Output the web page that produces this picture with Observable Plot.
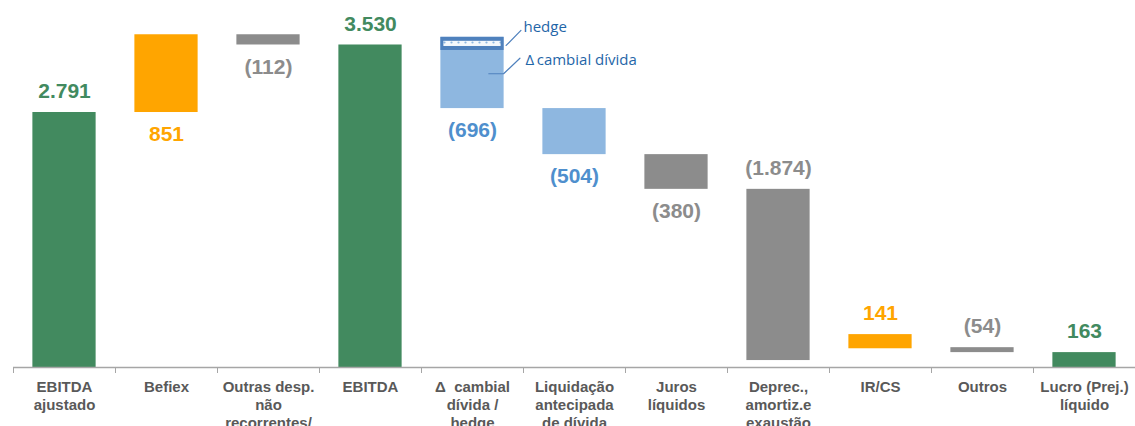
<!DOCTYPE html>
<html><head><meta charset="utf-8">
<script src="https://cdn.jsdelivr.net/npm/d3@7"></script>
<script src="https://cdn.jsdelivr.net/npm/@observablehq/plot@0.6"></script>
<style>body{margin:0;background:#fff;} #chart svg{display:block;}</style>
</head><body><div id="chart"></div>
<script>
// ---- data ----
const categories = ["EBITDA\najustado", "Befiex", "Outras desp.\nnão\nrecorrentes/", "EBITDA",
  "Δ\u00a0 cambial\ndívida /\nhedge", "Liquidação\nantecipada\nde dívida", "Juros\nlíquidos",
  "Deprec.,\namortiz.e\nexaustão", "IR/CS", "Outros", "Lucro (Prej.)\nlíquido"];
const values      = [2791, 851, -112, 3530, -696, -504, -380, -1874, 141, -54, 163];
const valueLabels = ["2.791", "851", "(112)", "3.530", "(696)", "(504)", "(380)", "(1.874)", "141", "(54)", "163"];
const barLow  = [0, 2791, 3530, 0, 2834, 2330, 1950, 76, 205, 163, 0];
const barHigh = [2791, 3642, 3642, 3530, 3614, 2834, 2330, 1950, 360, 217, 163];
const kinds   = ["total", "up", "down", "total", "fx", "fx", "down", "down", "up", "down", "total"];
const labelSide = ["above", "below", "below", "above", "below", "below", "below", "above", "above", "above", "above"];
// hedge segment on top of the Δ cambial bar
const hedgeCategory = 4, hedgeLow = 3470, hedgeHigh = 3614;
// annotation leader lines (x in category units, y in value units)
const hedgeLeaderX = [4.83, 4.975], hedgeLeaderY = [3525, 3690];
const fxLeaderX = [4.66, 4.805, 4.965], fxLeaderY = [3215, 3215, 3385];
const annotations = [
  {text: "hedge", x: 5.0, y: 3725},
  {text: "Δ\u2009cambial dívida", x: 5.02, y: 3360}
];

const barColor = {total: "#428a5f", up: "#ffa500", down: "#8c8c8c", fx: "#8eb7e0"};
const textColor = {total: "#428a5f", up: "#ffa500", down: "#8c8c8c", fx: "#4f8fcd"};

const data = categories.map((c, i) => ({
  i, cat: c, value: values[i], low: barLow[i], high: barHigh[i],
  kind: kinds[i], label: valueLabels[i], side: labelSide[i]
}));
const hedge = [{i: hedgeCategory, low: hedgeLow, high: hedgeHigh}];
const hedgeLine = hedgeLeaderX.map((x, k) => ({x, y: hedgeLeaderY[k]}));
const fxLine = fxLeaderX.map((x, k) => ({x, y: fxLeaderY[k]}));

const font = "'Liberation Sans', Arial, sans-serif";
const pad = 0.19;

const plot = Plot.plot({
  width: 1135, height: 426,
  marginLeft: 13, marginRight: 0, marginTop: 0, marginBottom: 59,
  x: {type: "linear", domain: [0, categories.length], axis: null},
  y: {domain: [0, 4017], axis: null},
  style: {fontFamily: font, background: "#fff", overflow: "visible"},
  marks: [
    Plot.rectY(data, {x1: d => d.i + pad, x2: d => d.i + 1 - pad, y1: "low", y2: "high",
      fill: d => barColor[d.kind]}),
    Plot.rectY(hedge, {x1: d => d.i + pad, x2: d => d.i + 1 - pad, y1: "low", y2: "high", fill: "#4f81bd"}),
    Plot.rectY(hedge, {x1: d => d.i + pad, x2: d => d.i + 1 - pad, y1: "low", y2: "high",
      fill: "url(#hedgeDots)", insetTop: 4, insetBottom: 4, insetLeft: 3, insetRight: 3}),
    Plot.line(hedgeLine, {x: "x", y: "y", stroke: "#4f81bd", strokeWidth: 1.2}),
    Plot.line(fxLine, {x: "x", y: "y", stroke: "#4f81bd", strokeWidth: 1.2}),
    Plot.text(annotations, {x: "x", y: "y", text: "text", textAnchor: "start",
      fontSize: 15, fill: "#1f66a8", fontFamily: "'Open Sans', 'Noto Sans', sans-serif"}),
    Plot.ruleY([0], {stroke: "#a6a6a6", strokeWidth: 1.5}),
    Plot.axisX(d3.range(categories.length + 1), {tickSize: 6, tickFormat: () => "", stroke: "#a6a6a6", label: null}),
    Plot.text(data.filter(d => d.side === "above"), {x: d => d.i + 0.5, y: "high", text: "label",
      dy: -21, fontSize: 21, fontWeight: "bold", fill: d => textColor[d.kind]}),
    Plot.text(data.filter(d => d.side === "below"), {x: d => d.i + 0.5, y: "low", text: "label",
      dy: 22, fontSize: 21, fontWeight: "bold", fill: d => textColor[d.kind]}),
    Plot.text(data, {x: d => d.i + 0.5, y: 0, text: "cat", dy: 11, lineAnchor: "top",
      fontSize: 15, fontWeight: "bold", fill: "#595959", lineHeight: 1.22})
  ]
});

// dotted pattern used by the hedge segment
const ns = "http://www.w3.org/2000/svg";
const defs = document.createElementNS(ns, "defs");
const pat = document.createElementNS(ns, "pattern");
pat.setAttribute("id", "hedgeDots");
pat.setAttribute("width", "7"); pat.setAttribute("height", "5");
pat.setAttribute("patternUnits", "userSpaceOnUse");
const bg = document.createElementNS(ns, "rect");
bg.setAttribute("width", "7"); bg.setAttribute("height", "5"); bg.setAttribute("fill", "#f4f8fc");
const dot = document.createElementNS(ns, "circle");
dot.setAttribute("cx", "3.5"); dot.setAttribute("cy", "2.5"); dot.setAttribute("r", "1.1");
dot.setAttribute("fill", "#8eb7e0");
pat.appendChild(bg); pat.appendChild(dot); defs.appendChild(pat);
plot.insertBefore(defs, plot.firstChild);

document.getElementById("chart").appendChild(plot);
</script>
</body></html>
